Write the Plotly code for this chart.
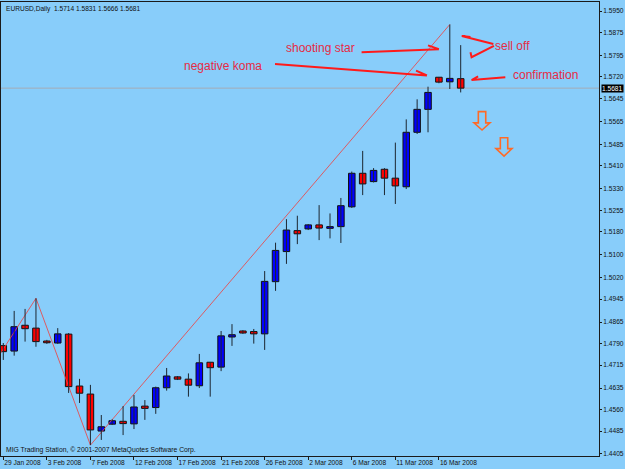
import plotly.graph_objects as go
from datetime import date

# ---------------- data ----------------
dates = ["2008-01-29", "2008-01-30", "2008-01-31", "2008-02-01", "2008-02-03", "2008-02-04",
         "2008-02-05", "2008-02-06", "2008-02-07", "2008-02-08", "2008-02-10", "2008-02-11",
         "2008-02-12", "2008-02-13", "2008-02-14", "2008-02-15", "2008-02-17", "2008-02-18",
         "2008-02-19", "2008-02-20", "2008-02-21", "2008-02-22", "2008-02-24", "2008-02-25",
         "2008-02-26", "2008-02-27", "2008-02-28", "2008-02-29", "2008-03-02", "2008-03-03",
         "2008-03-04", "2008-03-05", "2008-03-06", "2008-03-07", "2008-03-09", "2008-03-10",
         "2008-03-11", "2008-03-12", "2008-03-13", "2008-03-14", "2008-03-16", "2008-03-17",
         "2008-03-18"]

open_ = [1.4783, 1.4764, 1.4854, 1.4844, 1.4799, 1.4792, 1.4823, 1.4642, 1.4614, 1.4485, 1.4509,
         1.4519, 1.4510, 1.4572, 1.4567, 1.4636, 1.4674, 1.4666, 1.4643, 1.4725, 1.4708, 1.4813,
         1.4834, 1.4832, 1.4824, 1.5006, 1.5111, 1.5184, 1.5190, 1.5204, 1.5192, 1.5198, 1.5267,
         1.5384, 1.5355, 1.5398, 1.5367, 1.5337, 1.5527, 1.5607, 1.5719, 1.5703, 1.5714]
high = [1.4792, 1.4904, 1.4911, 1.4948, 1.4803, 1.4844, 1.4827, 1.4667, 1.4646, 1.4541, 1.4526,
        1.4572, 1.4611, 1.4593, 1.4640, 1.4705, 1.4677, 1.4686, 1.4754, 1.4726, 1.4834, 1.4858,
        1.4837, 1.4841, 1.5043, 1.5142, 1.5224, 1.5236, 1.5207, 1.5273, 1.5244, 1.5298, 1.5390,
        1.5462, 1.5402, 1.5402, 1.5491, 1.5572, 1.5642, 1.5686, 1.5720, 1.5903, 1.5831]
low = [1.4733, 1.4748, 1.4797, 1.4779, 1.4789, 1.4789, 1.4618, 1.4583, 1.4436, 1.4454, 1.4506,
       1.4471, 1.4492, 1.4524, 1.4545, 1.4626, 1.4663, 1.4605, 1.4635, 1.4605, 1.4694, 1.4782,
       1.4824, 1.4790, 1.4768, 1.4974, 1.5068, 1.5137, 1.5186, 1.5151, 1.5157, 1.5141, 1.5263,
       1.5308, 1.5352, 1.5308, 1.5277, 1.5329, 1.5521, 1.5527, 1.5698, 1.5678, 1.5666]
close = [1.4762, 1.4849, 1.4842, 1.4797, 1.4793, 1.4824, 1.4640, 1.4617, 1.4489, 1.4500, 1.4521,
         1.4511, 1.4569, 1.4564, 1.4636, 1.4677, 1.4666, 1.4645, 1.4723, 1.4706, 1.4817, 1.4821,
         1.4827, 1.4824, 1.5007, 1.5115, 1.5186, 1.5173, 1.5204, 1.5193, 1.5198, 1.5271, 1.5384,
         1.5347, 1.5394, 1.5367, 1.5340, 1.5527, 1.5607, 1.5666, 1.5702, 1.5715, 1.5681]

# ZigZag pivots (bar index, price); first pivot lies just off the left edge
zz_index = [-1, 3, 8, 41]
zz_price = [1.4712, high[3], low[8], high[41]]

price_ticks = ["1.5950", "1.5875", "1.5795", "1.5720", "1.5645", "1.5565", "1.5485", "1.5410",
               "1.5330", "1.5255", "1.5180", "1.5100", "1.5020", "1.4945", "1.4865", "1.4790",
               "1.4715", "1.4635", "1.4560", "1.4485", "1.4405"]

title_text = "EURUSD,Daily  1.5714 1.5831 1.5666 1.5681"
copyright_text = "MIG Trading Station, © 2001-2007 MetaQuotes Software Corp."

# ---------------- styling ----------------
BG = "#88cdfa"
UP = "#0000ff"
DOWN = "#ff0000"
FG = "#111111"
FONT = "Liberation Sans, Arial, sans-serif"
NOTE_RED = "#e62a44"
PEN_RED = "#ff1a1a"
ORANGE = "#ff6a26"
SMALL = 6.6

n = len(dates)
idx = list(range(n))

fig = go.Figure()

# ZigZag line
fig.add_trace(go.Scatter(x=zz_index, y=zz_price, mode="lines",
                         line=dict(color="rgba(235,70,70,0.85)", width=1),
                         hoverinfo="skip"))

# wicks
wx, wy = [], []
for i in idx:
    wx += [i, i, None]
    wy += [low[i], high[i], None]
fig.add_trace(go.Scatter(x=wx, y=wy, mode="lines",
                         line=dict(color="#1c2630", width=1), hoverinfo="skip"))

# bodies
base = [min(o, c) for o, c in zip(open_, close)]
height = [max(abs(c - o), 0.00015) for o, c in zip(open_, close)]
colors = [UP if c >= o else DOWN for o, c in zip(open_, close)]
fig.add_trace(go.Bar(x=idx, y=height, base=base, width=0.6,
                     marker=dict(color=colors, line=dict(color="#111111", width=1)),
                     customdata=list(zip(dates, open_, high, low, close)),
                     hovertemplate="%{customdata[0]}<br>O %{customdata[1]}<br>H %{customdata[2]}"
                                   "<br>L %{customdata[3]}<br>C %{customdata[4]}<extra></extra>"))

# x ticks every 4 bars
xt_vals, xt_text = [], []
for i in range(0, n, 4):
    d = date.fromisoformat(dates[i])
    xt_vals.append(i)
    xt_text.append(f"{d.day} {d.strftime('%b')} {d.year}")

shapes = []
# bid line
shapes.append(dict(type="line", xref="paper", x0=0, x1=1, yref="y", y0=close[-1], y1=close[-1],
                   line=dict(color="#a3adb6", width=1), layer="below"))

# hand-drawn red arrows (data coordinates: bar index, price)
pen_paths = [
    "M 32.9,1.5806 L 40.0,1.5817 M 39.0,1.5830 L 40.0,1.5817",            # shooting star
    "M 24.95,1.5765 L 38.9,1.5725 M 37.9,1.5742 L 38.9,1.5725",           # negative koma
    "M 45.0,1.5835 L 42.1,1.5863 L 42.9,1.5859 M 45.05,1.5828 L 43.0,1.5789 L 42.9,1.5806",  # sell off
    "M 46.1,1.5719 L 43.0,1.5709 L 43.6,1.5722",                           # confirmation
]
for p in pen_paths:
    shapes.append(dict(type="path", xref="x", yref="y", path=p,
                       line=dict(color=PEN_RED, width=2)))

# orange hollow down arrows
def down_arrow(xl, xsl, xc, xsr, xr, ytop, yhead, ytip):
    return (f"M {xsl},{ytop} L {xsr},{ytop} L {xsr},{yhead} L {xr},{yhead} L {xc},{ytip} "
            f"L {xl},{yhead} L {xsl},{yhead} Z")

shapes.append(dict(type="path", xref="x", yref="y",
                   path=down_arrow(43.22, 43.62, 43.96, 44.30, 44.69, 1.5599, 1.5560, 1.5535),
                   line=dict(color=ORANGE, width=1.6)))
shapes.append(dict(type="path", xref="x", yref="y",
                   path=down_arrow(45.24, 45.64, 45.98, 46.32, 46.71, 1.5508, 1.5470, 1.5444),
                   line=dict(color=ORANGE, width=1.6)))

annotations = [
    dict(text=title_text, xref="paper", yref="paper", x=0, y=1, xanchor="left", yanchor="top",
         xshift=3, yshift=-1, showarrow=False, font=dict(family=FONT, size=SMALL, color=FG)),
    dict(text=copyright_text, xref="paper", yref="paper", x=0, y=0, xanchor="left", yanchor="bottom",
         xshift=3, yshift=0, showarrow=False, font=dict(family=FONT, size=6.8, color=FG)),
    dict(text=f"{close[-1]:.4f}", xref="paper", yref="y", x=1, y=close[-1],
         xanchor="left", yanchor="middle", xshift=2, showarrow=False, bgcolor="#000000",
         borderpad=0, font=dict(family=FONT, size=SMALL, color="#ffffff")),
    dict(text="shooting star", xref="x", yref="y", x=29.1, y=1.5822, showarrow=False,
         font=dict(family=FONT, size=12, color=NOTE_RED)),
    dict(text="negative koma", xref="x", yref="y", x=20.2, y=1.5759, showarrow=False,
         font=dict(family=FONT, size=12, color=NOTE_RED)),
    dict(text="sell off", xref="x", yref="y", x=46.8, y=1.5829, showarrow=False,
         font=dict(family=FONT, size=12, color=NOTE_RED)),
    dict(text="confirmation", xref="x", yref="y", x=49.8, y=1.5728, showarrow=False,
         font=dict(family=FONT, size=12, color=NOTE_RED)),
]

fig.update_layout(
    width=625, height=469,
    margin=dict(l=1, r=26, t=2, b=13),
    template="none",
    plot_bgcolor=BG, paper_bgcolor=BG,
    showlegend=False,
    shapes=shapes, annotations=annotations,
    font=dict(family=FONT, size=SMALL, color=FG),
    xaxis=dict(range=[-0.21, 54.70], showgrid=False, zeroline=False, showline=True, mirror=True,
               linecolor="#1a1a1a", linewidth=1, ticks="outside", ticklen=3, tickcolor="#1a1a1a",
               tickvals=xt_vals, ticktext=xt_text, ticklabelposition="outside right",
               tickangle=0, ticklabelstandoff=0,
               tickfont=dict(family=FONT, size=SMALL, color=FG), automargin=False, fixedrange=True),
    yaxis=dict(range=[1.43980, 1.59814], side="right", showgrid=False, zeroline=False,
               showline=True, mirror=True, linecolor="#1a1a1a", linewidth=1, ticks="outside",
               ticklen=2, tickcolor="#1a1a1a", tickvals=[float(t) for t in price_ticks],
               ticktext=price_ticks, ticklabelstandoff=0,
               tickfont=dict(family=FONT, size=SMALL, color=FG),
               automargin=False, fixedrange=True),
)

fig.write_html("out.html")
